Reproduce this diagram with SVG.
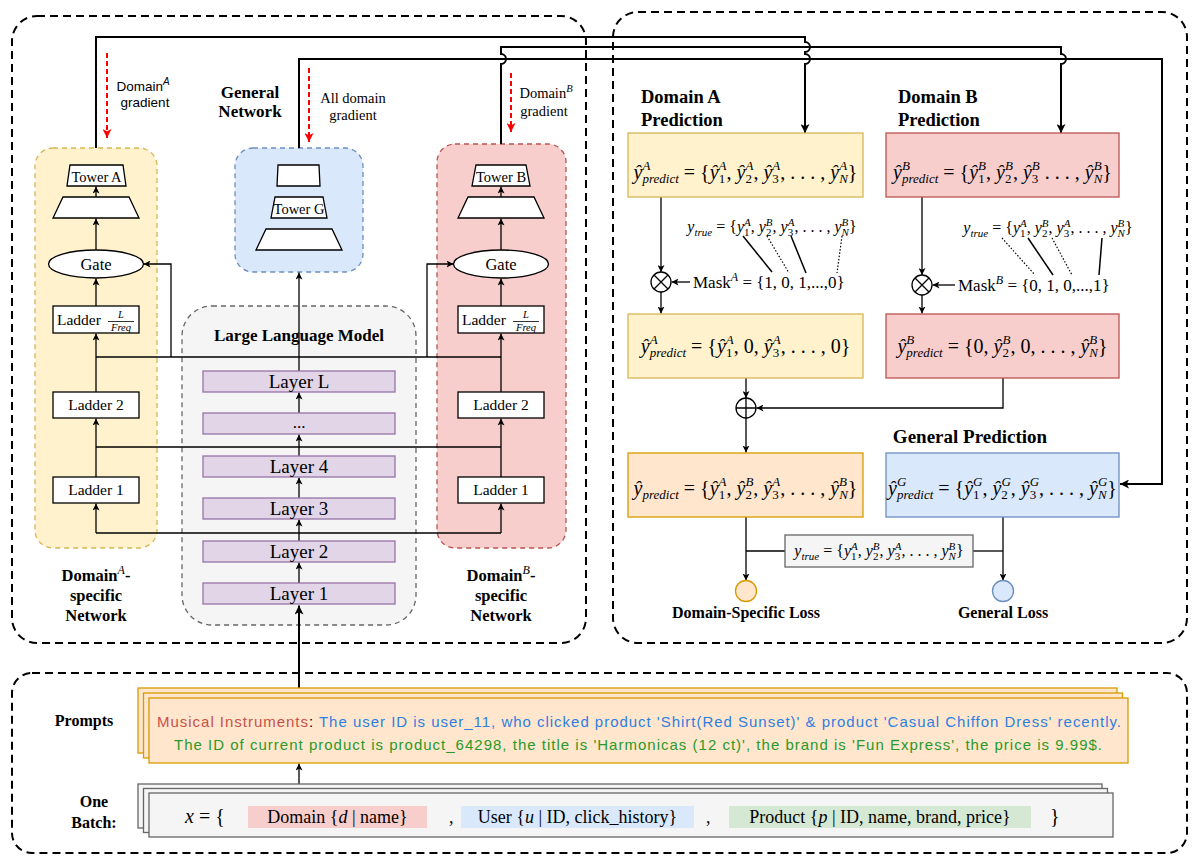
<svg xmlns="http://www.w3.org/2000/svg" width="1200" height="864" viewBox="0 0 1200 864">
<defs>
<marker id="a" viewBox="0 0 10 10" refX="10" refY="5" markerWidth="7" markerHeight="7" markerUnits="userSpaceOnUse" orient="auto"><path d="M0,0 L10,5 L0,10 L2.5,5 z" fill="#000"/></marker>
<marker id="ab" viewBox="0 0 10 10" refX="10" refY="5" markerWidth="9" markerHeight="9" markerUnits="userSpaceOnUse" orient="auto"><path d="M0,0 L10,5 L0,10 L2.5,5 z" fill="#000"/></marker>
<marker id="ar" viewBox="0 0 10 10" refX="10" refY="5" markerWidth="9" markerHeight="9" markerUnits="userSpaceOnUse" orient="auto"><path d="M0,0 L10,5 L0,10 L2.5,5 z" fill="#ff0000"/></marker>
</defs>
<style>
.ser{font-family:"Liberation Serif","DejaVu Serif",serif;fill:#000}
.sans{font-family:"Liberation Sans","DejaVu Sans",sans-serif;fill:#000}
.b{font-weight:bold}
.m{font-family:"Liberation Serif","DejaVu Serif",serif;font-size:20px;fill:#000}
.m2{font-family:"Liberation Serif","DejaVu Serif",serif;font-size:16px;fill:#000}
.i{font-style:italic}
.s{font-size:13px;font-style:italic}
.sn{font-size:13px}
.s2{font-size:11px;font-style:italic}
.sn2{font-size:11px}
.ln{fill:none;stroke:#000;stroke-width:1.3}
.lt{fill:none;stroke:#000;stroke-width:2}
.pnl{fill:none;stroke:#000;stroke-width:2;stroke-dasharray:8,5}
.red{fill:none;stroke:#ff0000;stroke-width:2;stroke-dasharray:5,3}
.box{fill:#fff;stroke:#000;stroke-width:1.3}
.lay{fill:#e1d5e7;stroke:#9673a6;stroke-width:1.3}
.yel{fill:#fff2cc;stroke:#d6b656;stroke-width:1.3}
.pnk{fill:#f8cecc;stroke:#b85450;stroke-width:1.3}
.blu{fill:#dae8fc;stroke:#6c8ebf;stroke-width:1.3}
.org{fill:#ffe6cc;stroke:#d79b00;stroke-width:1.3}
.gry{fill:#f5f5f5;stroke:#666666;stroke-width:1.3}
.dsh{stroke-dasharray:5,4}
.dot{fill:none;stroke:#000;stroke-width:1.2;stroke-dasharray:1.5,1.8}
.sol{fill:none;stroke:#000;stroke-width:1.5}
.cr{fill:#c9504a}
.cb{fill:#2f7fe0}
.cg{fill:#2a9a2a}
</style>
<rect width="1200" height="864" fill="#fff"/>

<!-- panels -->
<g id="panels">
<rect class="pnl" x="12" y="16" width="574" height="627" rx="25"/>
<rect class="pnl" x="613" y="12" width="574" height="631" rx="25"/>
<rect class="pnl" x="12" y="673" width="1175" height="180" rx="20"/>
</g>

<!-- containers -->
<g id="domainA-net">
<rect class="yel dsh" x="35" y="148" width="122" height="400" rx="18"/>
<text class="ser b" font-size="16.5" text-anchor="middle"><tspan x="96" y="581">Domain<tspan font-weight="normal" font-style="italic" font-size="12" dy="-7">A</tspan><tspan dy="7">-</tspan></tspan><tspan x="96" y="601">specific</tspan><tspan x="96" y="621">Network</tspan></text>
</g>
<g id="general-net">
<rect class="blu dsh" x="235" y="148" width="128" height="124" rx="18"/>
<text class="ser b" font-size="17" text-anchor="middle"><tspan x="250" y="98">General</tspan><tspan x="250" y="117">Network</tspan></text>
</g>
<g id="llm">
<rect class="gry dsh" x="182" y="306" width="234" height="319" rx="30"/>
<text class="ser b" font-size="17" x="299" y="341" text-anchor="middle">Large Language Model</text>
</g>
<g id="domainB-net">
<rect class="pnk dsh" x="437" y="144" width="129" height="404" rx="18"/>
<text class="ser b" font-size="16.5" text-anchor="middle"><tspan x="501" y="581">Domain<tspan font-weight="normal" font-style="italic" font-size="12" dy="-7">B</tspan><tspan dy="7">-</tspan></tspan><tspan x="501" y="601">specific</tspan><tspan x="501" y="621">Network</tspan></text>
</g>

<!-- connectors -->
<g id="connectors">
<path class="lt" d="M96,148 V37 H805 V42 A5,5 0 0 1 805,52 V54 A5,5 0 0 1 805,64 V133" marker-end="url(#ab)"/>
<path class="lt" d="M501,144 V64 A5,5 0 0 0 501,54 V47 H1061 V54 A5,5 0 0 1 1061,64 V133" marker-end="url(#ab)"/>
<path class="lt" d="M299,148 V59 H1162 V484 H1120" marker-end="url(#ab)"/>
<path class="red" d="M107,53 V138" marker-end="url(#ar)"/>
<path class="red" d="M309,68 V142" marker-end="url(#ar)"/>
<path class="red" d="M511,73 V132" marker-end="url(#ar)"/>
<!-- domain A column -->
<path class="ln" d="M96,197 V186.5" marker-end="url(#a)"/>
<path class="ln" d="M96,250 V218.5" marker-end="url(#a)"/>
<path class="ln" d="M96,306 V278.5" marker-end="url(#a)"/>
<path class="ln" d="M96,392 V333.5" marker-end="url(#a)"/>
<path class="ln" d="M96,477 V418.5" marker-end="url(#a)"/>
<path class="ln" d="M96,533 V503.5" marker-end="url(#a)"/>
<path class="ln" d="M171,357 V264 H143.5" marker-end="url(#a)"/>
<!-- domain B column -->
<path class="ln" d="M501,197 V186.5" marker-end="url(#a)"/>
<path class="ln" d="M501,250 V218.5" marker-end="url(#a)"/>
<path class="ln" d="M501,306 V278.5" marker-end="url(#a)"/>
<path class="ln" d="M501,392 V333.5" marker-end="url(#a)"/>
<path class="ln" d="M501,477 V418.5" marker-end="url(#a)"/>
<path class="ln" d="M501,533 V503.5" marker-end="url(#a)"/>
<path class="ln" d="M427,357 V264 H453.5" marker-end="url(#a)"/>
<!-- shared buses -->
<path class="ln" d="M96,357 H501"/>
<path class="ln" d="M96,447 H501"/>
<path class="ln" d="M96,533 H501"/>
<!-- LLM stack -->
<path class="ln" d="M299,371 V272.5" marker-end="url(#a)"/>
<path class="ln" d="M299,413 V392.5" marker-end="url(#a)"/>
<path class="ln" d="M299,456 V434.5" marker-end="url(#a)"/>
<path class="ln" d="M299,498 V477.5" marker-end="url(#a)"/>
<path class="ln" d="M299,541 V519.5" marker-end="url(#a)"/>
<path class="ln" d="M299,583 V562.5" marker-end="url(#a)"/>
<path class="lt" d="M299,688 V605.5" marker-end="url(#ab)"/>
<path class="ln" d="M299,784 V763.5" marker-end="url(#a)"/>
<!-- right panel -->
<path class="ln" d="M661,197 V272" marker-end="url(#a)"/>
<path class="ln" d="M661,292 V313.5" marker-end="url(#a)"/>
<path class="ln" d="M690,282 H671.5" marker-end="url(#a)"/>
<path class="ln" d="M922,197 V275" marker-end="url(#a)"/>
<path class="ln" d="M922,295 V313.5" marker-end="url(#a)"/>
<path class="ln" d="M955,285 H932.5" marker-end="url(#a)"/>
<path class="ln" d="M746,378 V398" marker-end="url(#a)"/>
<path class="ln" d="M746,418 V452.5" marker-end="url(#a)"/>
<path class="ln" d="M1003,378 V408 H756.5" marker-end="url(#a)"/>
<path class="ln" d="M746,517 V580.5" marker-end="url(#a)"/>
<path class="ln" d="M1003,517 V580.5" marker-end="url(#a)"/>
<path class="ln" d="M785,551 H746"/>
<path class="ln" d="M973,551 H1003"/>
<path class="sol" d="M743,236 L772,272"/>
<path class="dot" d="M767,236 L789,273"/>
<path class="sol" d="M791,236 L806,273"/>
<path class="dot" d="M842,236 L837,273"/>
<path class="dot" d="M1002,238 L1035,275"/>
<path class="sol" d="M1028,238 L1053,275"/>
<path class="dot" d="M1052,238 L1072,275"/>
<path class="sol" d="M1102,238 L1099,275"/>
</g>

<!-- gradient labels -->
<g id="gradA">
<text class="sans" font-size="13.5" text-anchor="middle"><tspan x="143" y="91">Domain<tspan font-style="italic" font-size="10" dy="-6">A</tspan></tspan><tspan x="145" y="107">gradient</tspan></text>
</g>
<g id="gradG">
<text class="ser" font-size="14.5" text-anchor="middle"><tspan x="353" y="103">All domain</tspan><tspan x="353" y="120">gradient</tspan></text>
</g>
<g id="gradB">
<text class="ser" font-size="14.5" text-anchor="middle"><tspan x="546" y="98">Domain<tspan font-style="italic" font-size="10.5" dy="-6">B</tspan></tspan><tspan x="544" y="116">gradient</tspan></text>
</g>

<!-- Domain A nodes -->
<g id="towerA"><polygon class="box" points="70,165 123,165 126,186 67,186"/><text class="ser" font-size="14.5" x="96.5" y="182" text-anchor="middle">Tower A</text></g>
<g id="mlpA"><polygon class="box" points="63,197 129,197 139,218 53,218"/></g>
<g id="gateA"><ellipse class="box" cx="96" cy="264" rx="47.5" ry="14"/><text class="ser" font-size="16.5" x="96" y="270" text-anchor="middle">Gate</text></g>
<g id="ladderLA"><rect class="box" x="53" y="306" width="86" height="27"/><text class="ser" font-size="15.5" x="57" y="325">Ladder</text><text class="ser i" font-size="10.5" x="121" y="318" text-anchor="middle">L</text><line x1="108" y1="321.5" x2="134" y2="321.5" stroke="#000" stroke-width="0.8"/><text class="ser i" font-size="10.5" x="121" y="331" text-anchor="middle">Freq</text></g>
<g id="ladder2A"><rect class="box" x="53" y="392" width="86" height="26"/><text class="ser" font-size="15.5" x="96" y="410" text-anchor="middle">Ladder 2</text></g>
<g id="ladder1A"><rect class="box" x="53" y="477" width="86" height="26"/><text class="ser" font-size="15.5" x="96" y="495" text-anchor="middle">Ladder 1</text></g>

<!-- General tower -->
<g id="towerG">
<polygon class="box" points="278,165 319,165 320,186 277,186"/>
<polygon class="box" points="275,197 323,197 327,218 271,218"/>
<text class="ser" font-size="14.5" x="299" y="214" text-anchor="middle">Tower G</text>
<polygon class="box" points="266,229 332,229 342,250 256,250"/>
</g>

<!-- Domain B nodes -->
<g id="towerB"><polygon class="box" points="476,165 526,165 530,186 472,186"/><text class="ser" font-size="14.5" x="501" y="182" text-anchor="middle">Tower B</text></g>
<g id="mlpB"><polygon class="box" points="468,197 534,197 544,218 458,218"/></g>
<g id="gateB"><ellipse class="box" cx="501" cy="264" rx="47.5" ry="14"/><text class="ser" font-size="16.5" x="501" y="270" text-anchor="middle">Gate</text></g>
<g id="ladderLB"><rect class="box" x="458" y="306" width="86" height="27"/><text class="ser" font-size="15.5" x="462" y="325">Ladder</text><text class="ser i" font-size="10.5" x="526" y="318" text-anchor="middle">L</text><line x1="513" y1="321.5" x2="539" y2="321.5" stroke="#000" stroke-width="0.8"/><text class="ser i" font-size="10.5" x="526" y="331" text-anchor="middle">Freq</text></g>
<g id="ladder2B"><rect class="box" x="458" y="392" width="86" height="26"/><text class="ser" font-size="15.5" x="501" y="410" text-anchor="middle">Ladder 2</text></g>
<g id="ladder1B"><rect class="box" x="458" y="477" width="86" height="26"/><text class="ser" font-size="15.5" x="501" y="495" text-anchor="middle">Ladder 1</text></g>

<!-- LLM layers -->
<g id="layerL"><rect class="lay" x="203" y="371" width="192" height="21"/><text class="ser" font-size="19" x="299" y="388" text-anchor="middle">Layer L</text></g>
<g id="layerDots"><rect class="lay" x="203" y="413" width="192" height="21"/><text class="ser" font-size="17" x="299" y="428" text-anchor="middle">...</text></g>
<g id="layer4"><rect class="lay" x="203" y="456" width="192" height="21"/><text class="ser" font-size="19" x="299" y="473" text-anchor="middle">Layer 4</text></g>
<g id="layer3"><rect class="lay" x="203" y="498" width="192" height="21"/><text class="ser" font-size="19" x="299" y="515" text-anchor="middle">Layer 3</text></g>
<g id="layer2"><rect class="lay" x="203" y="541" width="192" height="21"/><text class="ser" font-size="19" x="299" y="558" text-anchor="middle">Layer 2</text></g>
<g id="layer1"><rect class="lay" x="203" y="583" width="192" height="21"/><text class="ser" font-size="19" x="299" y="600" text-anchor="middle">Layer 1</text></g>

<!-- Right panel -->
<g id="titleA"><text class="ser b" font-size="18.5"><tspan x="641" y="103">Domain A</tspan><tspan x="641" y="126">Prediction</tspan></text></g>
<g id="titleB"><text class="ser b" font-size="18.5"><tspan x="898" y="103">Domain B</tspan><tspan x="898" y="126">Prediction</tspan></text></g>

<g id="predA">
<rect class="yel" x="628" y="133" width="235" height="64"/>
<text class="m" x="745.5" y="179" text-anchor="middle"><tspan class="i">ŷ</tspan><tspan class="s" dy="-9">A</tspan><tspan class="s" dx="-7.9" dy="13">predict</tspan><tspan dy="-4"> = {</tspan><tspan class="i">ŷ</tspan><tspan class="s" dy="-9">A</tspan><tspan class="sn" dx="-7.9" dy="13">1</tspan><tspan dy="-4" dx="1.4">, </tspan><tspan class="i">ŷ</tspan><tspan class="s" dy="-9">A</tspan><tspan class="sn" dx="-7.9" dy="13">2</tspan><tspan dy="-4" dx="1.4">, </tspan><tspan class="i">ŷ</tspan><tspan class="s" dy="-9">A</tspan><tspan class="sn" dx="-7.9" dy="13">3</tspan><tspan dy="-4" dx="1.4">, . . . , </tspan><tspan class="i">ŷ</tspan><tspan class="s" dy="-9">A</tspan><tspan class="s" dx="-7.9" dy="13">N</tspan><tspan dy="-4">}</tspan></text>
</g>
<g id="predB">
<rect class="pnk" x="886" y="133" width="233" height="64"/>
<text class="m" x="1002.5" y="179" text-anchor="middle"><tspan class="i">ŷ</tspan><tspan class="s" dy="-9">B</tspan><tspan class="s" dx="-7.9" dy="13">predict</tspan><tspan dy="-4"> = {</tspan><tspan class="i">ŷ</tspan><tspan class="s" dy="-9">B</tspan><tspan class="sn" dx="-7.9" dy="13">1</tspan><tspan dy="-4" dx="1.4">, </tspan><tspan class="i">ŷ</tspan><tspan class="s" dy="-9">B</tspan><tspan class="sn" dx="-7.9" dy="13">2</tspan><tspan dy="-4" dx="1.4">, </tspan><tspan class="i">ŷ</tspan><tspan class="s" dy="-9">B</tspan><tspan class="sn" dx="-7.9" dy="13">3</tspan><tspan dy="-4" dx="1.4"> . . . , </tspan><tspan class="i">ŷ</tspan><tspan class="s" dy="-9">B</tspan><tspan class="s" dx="-7.9" dy="13">N</tspan><tspan dy="-4">}</tspan></text>
</g>

<g id="ytrueA">
<text class="m2" x="772" y="232" text-anchor="middle"><tspan class="i">y</tspan><tspan class="s2" dy="4">true</tspan><tspan dy="-4"> = {</tspan><tspan class="i">y</tspan><tspan class="s2" dy="-6">A</tspan><tspan class="sn2" dx="-6.7" dy="10">1</tspan><tspan dy="-4" dx="1.2">, </tspan><tspan class="i">y</tspan><tspan class="s2" dy="-6">B</tspan><tspan class="sn2" dx="-6.7" dy="10">2</tspan><tspan dy="-4" dx="1.2">, </tspan><tspan class="i">y</tspan><tspan class="s2" dy="-6">A</tspan><tspan class="sn2" dx="-6.7" dy="10">3</tspan><tspan dy="-4" dx="1.2">, . . . , </tspan><tspan class="i">y</tspan><tspan class="s2" dy="-6">B</tspan><tspan class="s2" dx="-6.7" dy="10">N</tspan><tspan dy="-4">}</tspan></text>
</g>
<g id="ytrueB">
<text class="m2" x="1048" y="233" text-anchor="middle"><tspan class="i">y</tspan><tspan class="s2" dy="4">true</tspan><tspan dy="-4"> = {</tspan><tspan class="i">y</tspan><tspan class="s2" dy="-6">A</tspan><tspan class="sn2" dx="-6.7" dy="10">1</tspan><tspan dy="-4" dx="1.2">, </tspan><tspan class="i">y</tspan><tspan class="s2" dy="-6">B</tspan><tspan class="sn2" dx="-6.7" dy="10">2</tspan><tspan dy="-4" dx="1.2">, </tspan><tspan class="i">y</tspan><tspan class="s2" dy="-6">A</tspan><tspan class="sn2" dx="-6.7" dy="10">3</tspan><tspan dy="-4" dx="1.2">, . . . , </tspan><tspan class="i">y</tspan><tspan class="s2" dy="-6">B</tspan><tspan class="s2" dx="-6.7" dy="10">N</tspan><tspan dy="-4">}</tspan></text>
</g>

<g id="mulA">
<circle cx="661" cy="282" r="10" fill="#fff" stroke="#000" stroke-width="1.3"/>
<path d="M654,275 L668,289 M668,275 L654,289" stroke="#000" stroke-width="1.3"/>
</g>
<g id="maskA"><text class="ser" font-size="17" x="693" y="288">Mask<tspan font-size="12" font-style="italic" dy="-7">A</tspan><tspan dy="7"> = {1, 0, 1,...,0}</tspan></text></g>
<g id="mulB">
<circle cx="922" cy="285" r="10" fill="#fff" stroke="#000" stroke-width="1.3"/>
<path d="M915,278 L929,292 M929,278 L915,292" stroke="#000" stroke-width="1.3"/>
</g>
<g id="maskB"><text class="ser" font-size="17" x="958" y="291">Mask<tspan font-size="12" font-style="italic" dy="-7">B</tspan><tspan dy="7"> = {0, 1, 0,...,1}</tspan></text></g>

<g id="maskedA">
<rect class="yel" x="628" y="314" width="235" height="64"/>
<text class="m" x="745.5" y="353" text-anchor="middle"><tspan class="i">ŷ</tspan><tspan class="s" dy="-9">A</tspan><tspan class="s" dx="-7.9" dy="13">predict</tspan><tspan dy="-4"> = {</tspan><tspan class="i">ŷ</tspan><tspan class="s" dy="-9">A</tspan><tspan class="sn" dx="-7.9" dy="13">1</tspan><tspan dy="-4" dx="1.4">, 0, </tspan><tspan class="i">ŷ</tspan><tspan class="s" dy="-9">A</tspan><tspan class="sn" dx="-7.9" dy="13">3</tspan><tspan dy="-4" dx="1.4">, . . . , 0}</tspan></text>
</g>
<g id="maskedB">
<rect class="pnk" x="886" y="314" width="233" height="64"/>
<text class="m" x="1002.5" y="353" text-anchor="middle"><tspan class="i">ŷ</tspan><tspan class="s" dy="-9">B</tspan><tspan class="s" dx="-7.9" dy="13">predict</tspan><tspan dy="-4"> = {0, </tspan><tspan class="i">ŷ</tspan><tspan class="s" dy="-9">B</tspan><tspan class="sn" dx="-7.9" dy="13">2</tspan><tspan dy="-4" dx="1.4">, 0, . . . , </tspan><tspan class="i">ŷ</tspan><tspan class="s" dy="-9">B</tspan><tspan class="s" dx="-7.9" dy="13">N</tspan><tspan dy="-4">}</tspan></text>
</g>

<g id="addNode">
<circle cx="746" cy="408" r="10" fill="#fff" stroke="#000" stroke-width="1.3"/>
<path d="M736,408 H756 M746,398 V418" stroke="#000" stroke-width="1.3"/>
</g>

<g id="titleG"><text class="ser b" font-size="19" x="970" y="443" text-anchor="middle">General Prediction</text></g>

<g id="predFinal">
<rect class="org" x="628" y="453" width="235" height="64"/>
<text class="m" x="745.5" y="495" text-anchor="middle"><tspan class="i">ŷ</tspan><tspan class="s" dy="4">predict</tspan><tspan dy="-4"> = {</tspan><tspan class="i">ŷ</tspan><tspan class="s" dy="-9">A</tspan><tspan class="sn" dx="-7.9" dy="13">1</tspan><tspan dy="-4" dx="1.4">, </tspan><tspan class="i">ŷ</tspan><tspan class="s" dy="-9">B</tspan><tspan class="sn" dx="-7.9" dy="13">2</tspan><tspan dy="-4" dx="1.4">, </tspan><tspan class="i">ŷ</tspan><tspan class="s" dy="-9">A</tspan><tspan class="sn" dx="-7.9" dy="13">3</tspan><tspan dy="-4" dx="1.4">, . . . , </tspan><tspan class="i">ŷ</tspan><tspan class="s" dy="-9">B</tspan><tspan class="s" dx="-7.9" dy="13">N</tspan><tspan dy="-4">}</tspan></text>
</g>
<g id="predG">
<rect class="blu" x="886" y="453" width="233" height="64"/>
<text class="m" x="1002.5" y="495" text-anchor="middle"><tspan class="i">ŷ</tspan><tspan class="s" dy="-9">G</tspan><tspan class="s" dx="-9.4" dy="13">predict</tspan><tspan dy="-4"> = {</tspan><tspan class="i">ŷ</tspan><tspan class="s" dy="-9">G</tspan><tspan class="sn" dx="-9.4" dy="13">1</tspan><tspan dy="-4" dx="2.9">, </tspan><tspan class="i">ŷ</tspan><tspan class="s" dy="-9">G</tspan><tspan class="sn" dx="-9.4" dy="13">2</tspan><tspan dy="-4" dx="2.9">, </tspan><tspan class="i">ŷ</tspan><tspan class="s" dy="-9">G</tspan><tspan class="sn" dx="-9.4" dy="13">3</tspan><tspan dy="-4" dx="2.9">, . . . , </tspan><tspan class="i">ŷ</tspan><tspan class="s" dy="-9">G</tspan><tspan class="s" dx="-9.4" dy="13">N</tspan><tspan dy="-4" dx="0.7">}</tspan></text>
</g>

<g id="ytrueLoss">
<rect class="gry" x="785" y="535" width="188" height="32"/>
<text class="m2" x="879" y="556" text-anchor="middle"><tspan class="i">y</tspan><tspan class="s2" dy="4">true</tspan><tspan dy="-4"> = {</tspan><tspan class="i">y</tspan><tspan class="s2" dy="-6">A</tspan><tspan class="sn2" dx="-6.7" dy="10">1</tspan><tspan dy="-4" dx="1.2">, </tspan><tspan class="i">y</tspan><tspan class="s2" dy="-6">B</tspan><tspan class="sn2" dx="-6.7" dy="10">2</tspan><tspan dy="-4" dx="1.2">, </tspan><tspan class="i">y</tspan><tspan class="s2" dy="-6">A</tspan><tspan class="sn2" dx="-6.7" dy="10">3</tspan><tspan dy="-4" dx="1.2">, . . . , </tspan><tspan class="i">y</tspan><tspan class="s2" dy="-6">B</tspan><tspan class="s2" dx="-6.7" dy="10">N</tspan><tspan dy="-4">}</tspan></text>
</g>

<g id="lossDS">
<circle class="org" cx="746" cy="591" r="10.5" stroke-width="1.5"/>
<text class="ser b" font-size="16" x="746" y="618" text-anchor="middle">Domain-Specific Loss</text>
</g>
<g id="lossG">
<circle class="blu" cx="1003" cy="591" r="10.5" stroke-width="1.5"/>
<text class="ser b" font-size="16" x="1003" y="618" text-anchor="middle">General Loss</text>
</g>

<!-- Bottom panel -->
<g id="prompts">
<text class="ser b" font-size="16" x="84" y="726" text-anchor="middle">Prompts</text>
<rect class="org" x="138" y="688" width="979" height="65"/>
<rect class="org" x="143.5" y="693" width="979" height="65"/>
<rect class="org" x="149" y="698" width="979" height="65"/>
<text class="sans" font-size="15" x="157" y="727" textLength="964" lengthAdjust="spacing"><tspan class="cr">Musical Instruments</tspan><tspan>: </tspan><tspan class="cb">The user ID is user_11, who clicked product 'Shirt(Red Sunset)' &amp; product 'Casual Chiffon Dress' recently.</tspan></text>
<text class="sans" font-size="15" x="174" y="750" textLength="928" lengthAdjust="spacing"><tspan class="cg">The ID of current product is product_64298, the title is 'Harmonicas (12 ct)', the brand is 'Fun Express', the price is 9.99$.</tspan></text>
</g>
<g id="batch">
<text class="ser b" font-size="16" text-anchor="middle"><tspan x="94" y="807">One</tspan><tspan x="94" y="828">Batch:</tspan></text>
<rect class="gry" x="138" y="784" width="964" height="44"/>
<rect class="gry" x="143.5" y="788.5" width="964" height="44"/>
<rect class="gry" x="149" y="793" width="964" height="44"/>
<text class="ser" font-size="20" x="185" y="823"><tspan class="i">x</tspan> = {</text>
<rect x="248" y="806" width="179" height="22" fill="#f8cecc"/>
<text class="ser" font-size="18" x="337.5" y="823" text-anchor="middle">Domain {<tspan class="i">d</tspan> | name}</text>
<text class="ser" font-size="18" x="449" y="823">,</text>
<rect x="461" y="806" width="233" height="22" fill="#dae8fc"/>
<text class="ser" font-size="18" x="577.5" y="823" text-anchor="middle">User {<tspan class="i">u</tspan> | ID, click_history}</text>
<text class="ser" font-size="18" x="706" y="823">,</text>
<rect x="729" y="806" width="302" height="22" fill="#d5e8d4"/>
<text class="ser" font-size="18" x="880" y="823" text-anchor="middle">Product {<tspan class="i">p</tspan> | ID, name, brand, price}</text>
<text class="ser" font-size="20" x="1050" y="823">}</text>
</g>
</svg>
